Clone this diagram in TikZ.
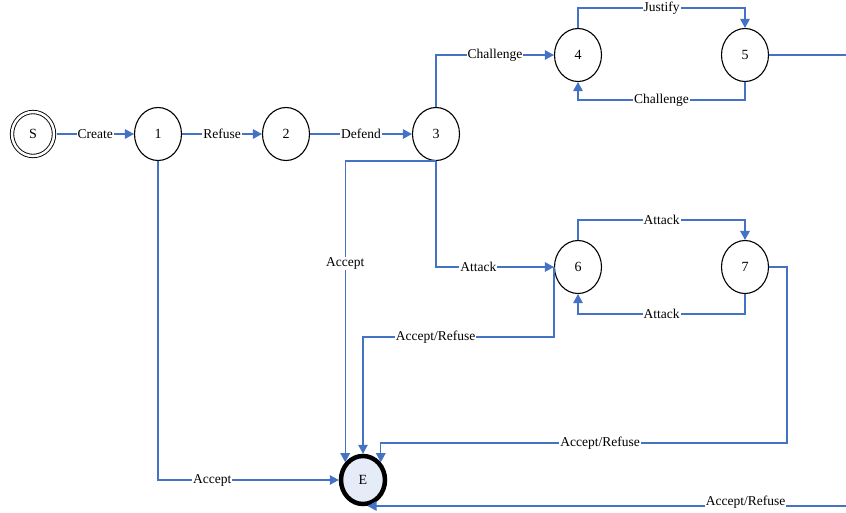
\documentclass[tikz,border=0pt]{standalone}
\usepackage{fontspec}
\setmainfont{Liberation Serif}
\usepackage{xcolor}
\usetikzlibrary{shapes.geometric, arrows.meta}

\definecolor{lnblue}{HTML}{4472C4}
\definecolor{endfill}{HTML}{E6ECF7}

\begin{document}
\begin{tikzpicture}[x=1pt, y=-1pt,
    state/.style={draw, ellipse, line width=1.1pt, minimum width=47pt,
                  minimum height=53pt, inner sep=0pt, font=\fontsize{14}{16}\selectfont},
    startst/.style={state, minimum width=42pt, minimum height=44pt, double,
                    double distance=2.5pt, line width=0.9pt, outer sep=2.5pt},
    endst/.style={state, fill=endfill, line width=4.5pt, minimum width=44pt,
                  minimum height=48pt},
    edge/.style={draw=lnblue, line width=1.3pt, -{Triangle[length=9pt,width=9.5pt]}},
    plain/.style={draw=lnblue, line width=1.3pt},
    lbl/.style={fill=white, inner sep=1pt, font=\fontsize{13.5}{15}\selectfont}
]
\useasboundingbox (0,0) rectangle (846,512);

\node[startst] (s)  at (33,134)  {S};
\node[state]   (n1) at (158,134) {1};
\node[state]   (n2) at (286,134) {2};
\node[state]   (n3) at (436,134) {3};
\node[state]   (n4) at (578,55)  {4};
\node[state]   (n5) at (745,55)  {5};
\node[state]   (n6) at (578,267) {6};
\node[state]   (n7) at (745,267) {7};
\node[endst]   (e)  at (363,480) {E};

\coordinate (out1) at (846,55);
\coordinate (out2) at (846,506);

\draw[edge] (s) -- node[lbl] {Create} (n1);
\draw[edge] (n1) -- node[lbl] {Refuse} (n2);
\draw[edge] (n2) -- node[lbl] {Defend} (n3);
\draw[edge] (n3.north) |- node[lbl, pos=0.75] {Challenge} (n4.west);
\draw[edge] (n4.north) -- ++(0,-20) -| node[lbl, pos=0.25] {Justify} (n5.north);
\draw[edge] (n5.south) -- ++(0,18) -| node[lbl, pos=0.25] {Challenge} (n4.south);
\draw[plain] (n5.east) -- (out1);

\draw[edge] (n3.south) |- node[lbl, pos=0.68] {Attack} (n6.west);
\draw[edge] (n6.north) -- ++(0,-20) -| node[lbl, pos=0.25] {Attack} (n7.north);
\draw[edge] (n7.south) -- ++(0,20) -| node[lbl, pos=0.25] {Attack} (n6.south);

\draw[edge] (n3.south) -| node[lbl, pos=0.67] {Accept} (e.135);
\draw[edge] (n6.west) -- ++(0,70) -| node[lbl, pos=0.31] {Accept/Refuse} (e.north);
\draw[edge] (n7.east) -- ++(18,0) -- ++(0,176) -| node[lbl, pos=0.23] {Accept/Refuse} (e.45);
\draw[edge] (n1.south) |- node[lbl, pos=0.65] {Accept} (e.west);
\draw[edge] (out2) -- node[lbl, pos=0.21, yshift=4] {Accept/Refuse} (e.-80 |- out2);
\end{tikzpicture}
\end{document}
